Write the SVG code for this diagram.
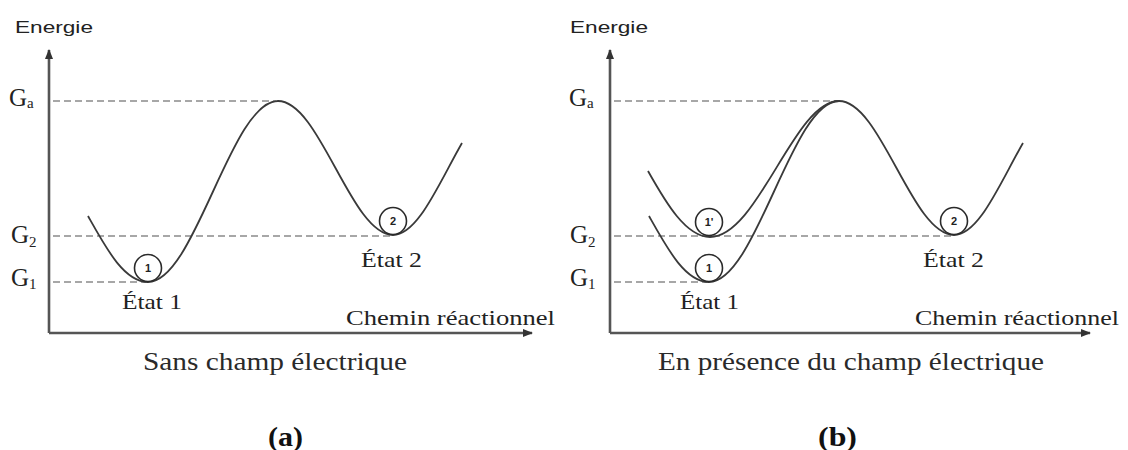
<svg xmlns="http://www.w3.org/2000/svg" width="1128" height="450" viewBox="0 0 1128 450">
<style>
.axis{stroke:#555;stroke-width:2.6;fill:none}
.dash{stroke:#8a8a8a;stroke-width:1.6;stroke-dasharray:7 4;fill:none}
.curve{stroke:#3a3a3a;stroke-width:1.8;fill:none}
.ball{stroke:#2a2a2a;stroke-width:1.6;fill:#fff}
.num{font-family:"Liberation Sans",Arial,sans-serif;font-size:11px;font-weight:bold;fill:#222;text-anchor:middle}
.sans{font-family:"Liberation Sans",Arial,sans-serif;font-size:17px;fill:#222}
.serif{font-family:"Liberation Serif","Times New Roman",serif;fill:#222}
.g{font-size:25px}
.sub{font-size:15px}
.lab{font-size:22px}
.cap{font-size:26px;fill:#2a2a2a}
.tag{font-size:27px;font-weight:bold;fill:#111}
</style>
<defs>
<marker id="arr" viewBox="0 0 10 10" refX="9" refY="5" markerWidth="4" markerHeight="4" orient="auto" markerUnits="strokeWidth">
<path d="M0,1 L10,5 L0,9 Z" fill="#333"/>
</marker>
</defs>

<g id="connectors">
<path class="axis" d="M49,333 V50" marker-end="url(#arr)"/>
<path class="axis" d="M49,333 H532" marker-end="url(#arr)"/>
<path class="axis" d="M610,333 V50" marker-end="url(#arr)"/>
<path class="axis" d="M610,333 H1090" marker-end="url(#arr)"/>
<path class="dash" d="M53,101 H276 M53,236 H390 M53,282 H146"/>
<path class="dash" d="M614,101 H837 M614,236 H951 M614,282 H707"/>
<path class="curve" d="M88,216 C106,248 124,282 148,282 C195,282 231,101 278,101 C320,101 351,235 393,235 C418,235 439,183 462,143"/>
<path class="curve" d="M649,216 C667,248 685,282 709,282 C756,282 792,101 839,101 C881,101 912,235 954,235 C979,235 1000,183 1023,143"/>
<path class="curve" d="M648,171 C666,203 686,237 710,237 C758,237 794,101 839,101"/>
</g>

<g id="panel-a-labels">
<text class="sans" x="15" y="33" textLength="78" lengthAdjust="spacingAndGlyphs">Energie</text>
<text class="serif g" x="9" y="106">G<tspan class="sub" dy="2">a</tspan></text>
<text class="serif g" x="11" y="243">G<tspan class="sub" dy="4">2</tspan></text>
<text class="serif g" x="11" y="286">G<tspan class="sub" dy="3">1</tspan></text>
<text class="serif lab" x="122" y="309" textLength="60" lengthAdjust="spacingAndGlyphs">État 1</text>
<text class="serif lab" x="361" y="267" textLength="61" lengthAdjust="spacingAndGlyphs">État 2</text>
<text class="serif lab" x="346" y="325" textLength="209" lengthAdjust="spacingAndGlyphs">Chemin réactionnel</text>
<text class="serif cap" x="143" y="370" textLength="264" lengthAdjust="spacingAndGlyphs">Sans champ électrique</text>
<text class="serif tag" x="268" y="446" textLength="35" lengthAdjust="spacingAndGlyphs">(a)</text>
</g>

<g id="state-a1">
<circle class="ball" cx="148" cy="268" r="13.5"/>
<text class="num" x="148" y="272">1</text>
</g>
<g id="state-a2">
<circle class="ball" cx="393" cy="221" r="13.5"/>
<text class="num" x="393" y="225">2</text>
</g>

<g id="panel-b-labels">
<text class="sans" x="570" y="33" textLength="78" lengthAdjust="spacingAndGlyphs">Energie</text>
<text class="serif g" x="569" y="106">G<tspan class="sub" dy="2">a</tspan></text>
<text class="serif g" x="570" y="243">G<tspan class="sub" dy="4">2</tspan></text>
<text class="serif g" x="570" y="286">G<tspan class="sub" dy="3">1</tspan></text>
<text class="serif lab" x="680" y="309" textLength="59" lengthAdjust="spacingAndGlyphs">État 1</text>
<text class="serif lab" x="923" y="267" textLength="61" lengthAdjust="spacingAndGlyphs">État 2</text>
<text class="serif lab" x="915" y="325" textLength="204" lengthAdjust="spacingAndGlyphs">Chemin réactionnel</text>
<text class="serif cap" x="658" y="370" textLength="386" lengthAdjust="spacingAndGlyphs">En présence du champ électrique</text>
<text class="serif tag" x="818" y="446" textLength="39" lengthAdjust="spacingAndGlyphs">(b)</text>
</g>

<g id="state-b1prime">
<circle class="ball" cx="709" cy="222" r="13.5"/>
<text class="num" x="709" y="226">1'</text>
</g>
<g id="state-b1">
<circle class="ball" cx="709" cy="268" r="13.5"/>
<text class="num" x="709" y="272">1</text>
</g>
<g id="state-b2">
<circle class="ball" cx="954" cy="221" r="13.5"/>
<text class="num" x="954" y="225">2</text>
</g>
</svg>
